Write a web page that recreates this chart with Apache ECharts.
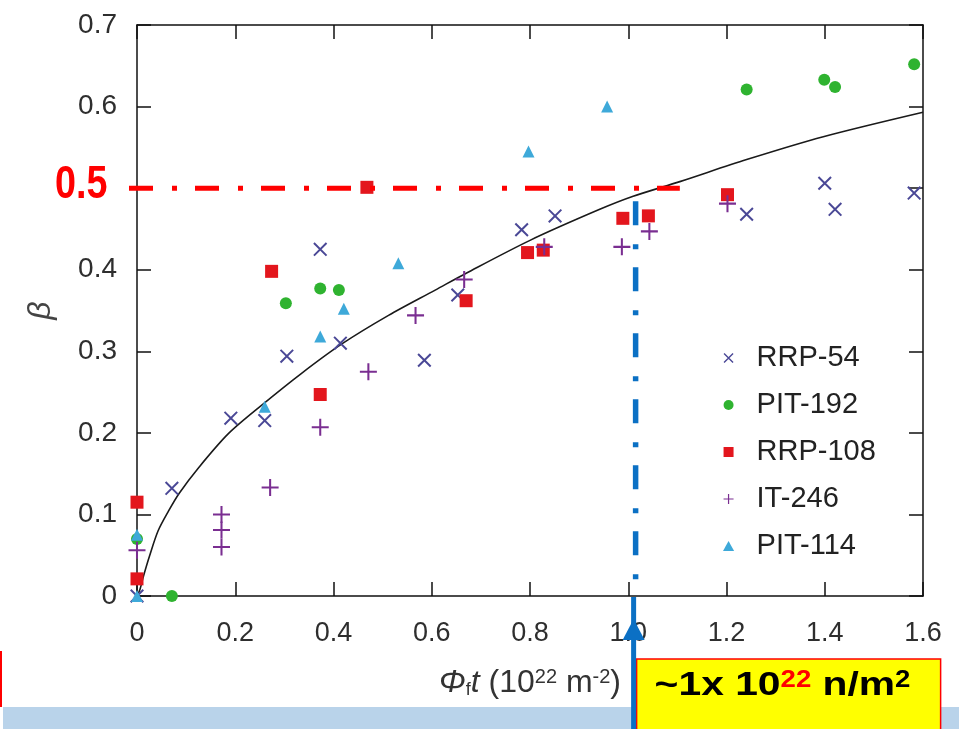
<!DOCTYPE html>
<html>
<head>
<meta charset="utf-8">
<script src="https://cdn.jsdelivr.net/npm/echarts@6/dist/echarts.min.js"></script>
<style>
  html, body { margin: 0; padding: 0; background: #fff; }
  #main { width: 959px; height: 729px; }
</style>
</head>
<body>
<div id="main"></div>
<script>
// Tick labels
const xTickLabels = ['0', '0.2', '0.4', '0.6', '0.8', '1.0', '1.2', '1.4', '1.6'];
const yTickLabels = ['0', '0.1', '0.2', '0.3', '0.4', '', '0.6', '0.7'];

// Measured points [fluence (10^22 m^-2), beta]
const rrp54 = [[0, 0], [0.071, 0.132], [0.191, 0.218], [0.260, 0.215], [0.305, 0.294], [0.373, 0.425],
  [0.414, 0.310], [0.585, 0.289], [0.653, 0.369], [0.783, 0.449], [0.851, 0.466], [1.241, 0.468],
  [1.400, 0.506], [1.421, 0.474], [1.582, 0.494]];
const pit192 = [[0, 0.070], [0.071, 0], [0.303, 0.359], [0.373, 0.377], [0.411, 0.375],
  [1.241, 0.621], [1.399, 0.633], [1.421, 0.624], [1.582, 0.652]];
const rrp108 = [[0, 0.115], [0, 0.021], [0.274, 0.398], [0.373, 0.247], [0.468, 0.501], [0.670, 0.362],
  [0.795, 0.421], [0.827, 0.424], [0.989, 0.463], [1.041, 0.466], [1.202, 0.492]];
const it246 = [[0, 0.056], [0.172, 0.100], [0.172, 0.081], [0.172, 0.060], [0.271, 0.133], [0.373, 0.207],
  [0.471, 0.275], [0.567, 0.344], [0.666, 0.388], [0.829, 0.428], [0.987, 0.428], [1.043, 0.447],
  [1.202, 0.481]];
const pit114 = [[0, 0], [0, 0.075], [0.260, 0.232], [0.373, 0.318], [0.421, 0.352], [0.532, 0.408],
  [0.797, 0.545], [0.957, 0.600]];

// Fitted trend curve
const fitX = [0, 0.006, 0.013, 0.026, 0.043, 0.064, 0.086, 0.125, 0.186, 0.254, 0.335, 0.417,
  0.512, 0.607, 0.671, 0.800, 0.942, 1.010, 1.105, 1.241, 1.397, 1.600];
const fitY = [0, 0.008, 0.024, 0.050, 0.080, 0.104, 0.126, 0.157, 0.199, 0.234, 0.273, 0.309,
  0.344, 0.375, 0.396, 0.436, 0.474, 0.490, 0.508, 0.535, 0.563, 0.593];

// Reference level and fluence marked on the plot
const betaLevel = 0.5;
const fluenceMark = 1.015;
const levelLineEnd = 1.105;

// Marker shapes
const crossPath = 'path://M2,0L20,18L18,20L0,2Z M18,0L20,2L2,20L0,18Z';
const plusPath = 'path://M8.8,0H11.2V8.8H20V11.2H11.2V20H8.8V11.2H0V8.8H8.8Z';
const squarePath = 'path://M0,0H20V20H0Z';
const trianglePath = 'path://M10,0L20,18H0Z';
const circlePath = 'path://M10,0A10,10,0,1,1,9.99,0Z';

const axisColor = '#111';
const labelColor = '#2e2e2e';
const baseFont = 'Liberation Sans, Arial, Helvetica, sans-serif';

const chart = echarts.init(document.getElementById('main'), null, { renderer: 'canvas' });

const axisLine = { show: true, onZero: false, lineStyle: { color: axisColor, width: 1.5 } };
const axisTick = { show: true, inside: true, length: 14, lineStyle: { color: axisColor, width: 1.5 } };

function scatter(name, data, symbol, size, color) {
  return {
    name, type: 'scatter', data, symbol, symbolSize: size,
    itemStyle: { color, opacity: 1 },
    emphasis: { disabled: true },
    z: 3
  };
}

chart.setOption({
  animation: false,
  backgroundColor: '#fff',
  grid: { left: 137, right: 36, top: 25, bottom: 133, containLabel: false },
  legend: {
    orient: 'vertical',
    left: 718, top: 338,
    itemWidth: 46, itemHeight: 10, itemGap: 17,
    selectedMode: false,
    data: [
      { name: 'RRP-54', icon: crossPath },
      { name: 'PIT-192', icon: circlePath },
      { name: 'RRP-108', icon: squarePath },
      { name: 'IT-246', icon: plusPath },
      { name: 'PIT-114', icon: trianglePath }
    ],
    textStyle: { fontSize: 29, color: '#222', fontFamily: baseFont, lineHeight: 30 }
  },
  xAxis: [{
    type: 'value', min: 0, max: 1.6, interval: 0.2, position: 'bottom',
    axisLine, axisTick,
    splitLine: { show: false },
    axisLabel: {
      show: true, margin: 24, fontSize: 27, color: labelColor, fontFamily: baseFont,
      showMinLabel: true, showMaxLabel: true,
      formatter: v => xTickLabels[Math.round(v / 0.2)]
    },
    name: '{it|Φ}{sub|f}{it|t} (10{sup|22} m{sup|-2})',
    nameLocation: 'middle', nameGap: 71,
    nameTextStyle: {
      fontSize: 32, color: '#333', fontFamily: baseFont,
      rich: {
        it: { fontSize: 32, fontStyle: 'italic', color: '#333', fontFamily: baseFont },
        sub: { fontSize: 18, verticalAlign: 'bottom', color: '#333', fontFamily: baseFont },
        sup: { fontSize: 20, verticalAlign: 'top', color: '#333', fontFamily: baseFont }
      }
    }
  }, {
    type: 'value', min: 0, max: 1.6, interval: 0.2, position: 'top',
    axisLine, axisTick, splitLine: { show: false }, axisLabel: { show: false }
  }],
  yAxis: [{
    type: 'value', min: 0, max: 0.7, interval: 0.1, position: 'left',
    axisLine, axisTick,
    splitLine: { show: false },
    axisLabel: {
      show: true, margin: 20, fontSize: 28, color: labelColor, fontFamily: baseFont,
      showMinLabel: true, showMaxLabel: true,
      formatter: v => yTickLabels[Math.round(v / 0.1)]
    },
    name: 'β', nameLocation: 'middle', nameGap: 80,
    nameTextStyle: { fontSize: 32, fontStyle: 'italic', color: '#444', fontFamily: baseFont }
  }, {
    type: 'value', min: 0, max: 0.7, interval: 0.1, position: 'right',
    axisLine, axisTick, splitLine: { show: false }, axisLabel: { show: false }
  }],
  series: [
    {
      name: 'fit', type: 'line', data: fitX.map((x, i) => [x, fitY[i]]),
      showSymbol: false, smooth: 0.3, silent: true,
      lineStyle: { color: '#1a1a1a', width: 1.6 }, z: 2
    },
    scatter('RRP-54', rrp54, crossPath, 14, '#4a4896'),
    scatter('PIT-192', pit192, 'circle', 12, '#2fb330'),
    scatter('RRP-108', rrp108, squarePath, 13, '#e3161d'),
    scatter('IT-246', it246, plusPath, 17, '#7a2e91'),
    scatter('PIT-114', pit114, trianglePath, 12, '#3ea9d9')
  ]
});

// Annotation overlay: reference level, fluence marker and callout box
const toPx = (x, y) => chart.convertToPixel({ xAxisIndex: 0, yAxisIndex: 0 }, [x, y]);
const levelPt = toPx(levelLineEnd, betaLevel);
const markTop = toPx(fluenceMark, fitY[17] - 0.006);
const markBase = toPx(fluenceMark, 0);
const mx = markTop[0];
const H = 729, W = 959;
const red = '#ff0000';
const blue = '#0b70c4';

chart.setOption({
  graphic: [
    { type: 'rect', shape: { x: 3, y: 707, width: W - 3, height: H - 707 }, style: { fill: '#b9d3ea' }, z: 10 },
    { type: 'line', shape: { x1: 1, y1: 651, x2: 1, y2: 707 }, style: { stroke: red, lineWidth: 2 }, z: 10 },
    {
      type: 'line', shape: { x1: 129, y1: levelPt[1], x2: levelPt[0], y2: levelPt[1] },
      style: { stroke: red, lineWidth: 5, lineDash: [24, 19, 5, 18] }, z: 20
    },
    {
      type: 'text', x: 55, y: levelPt[1] - 3, scaleX: 0.82,
      style: {
        text: '0.5', fill: red, fontSize: 46, fontWeight: 'bold',
        fontFamily: baseFont,
        verticalAlign: 'middle', align: 'left'
      }, z: 20
    },
    {
      type: 'line', shape: { x1: mx, y1: markTop[1], x2: mx, y2: markBase[1] },
      style: { stroke: blue, lineWidth: 5.5, lineDash: [24, 19, 5, 18] }, z: 20
    },
    {
      type: 'rect', shape: { x: mx + 1, y: 659, width: 304, height: 80 },
      style: { fill: '#ffff00', stroke: red, lineWidth: 1.5 }, z: 15
    },
    {
      type: 'text', x: mx + 19, y: 686, scaleX: 1.2,
      style: {
        text: '{a|~1x 10}{b|22}{a| n/m}{c|2}',
        verticalAlign: 'middle', align: 'left',
        rich: {
          a: { fontSize: 34, fontWeight: 'bold', fill: '#000', fontFamily: baseFont, verticalAlign: 'bottom' },
          b: { fontSize: 23, fontWeight: 'bold', fill: red, fontFamily: baseFont, verticalAlign: 'top' },
          c: { fontSize: 23, fontWeight: 'bold', fill: '#000', fontFamily: baseFont, verticalAlign: 'top' }
        }
      }, z: 16
    },
    {
      type: 'line', shape: { x1: mx - 2, y1: markBase[1] + 1, x2: mx - 2, y2: H },
      style: { stroke: blue, lineWidth: 5 }, z: 20
    },
    {
      type: 'polygon', shape: { points: [[mx - 2, 619], [mx - 13, 640], [mx + 9, 640]] },
      style: { fill: blue }, z: 20
    }
  ]
});
</script>
</body>
</html>
